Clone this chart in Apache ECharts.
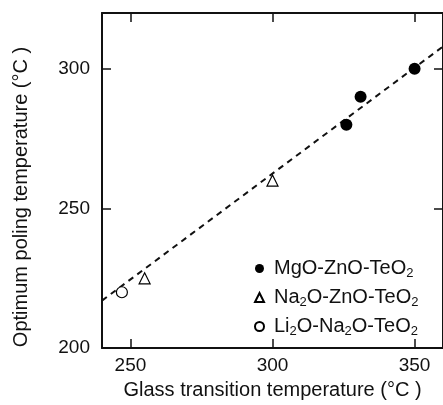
<!DOCTYPE html>
<html><head><meta charset="utf-8">
<script src="https://cdn.jsdelivr.net/npm/echarts@6/dist/echarts.min.js"></script>
<style>html,body{margin:0;padding:0;background:#fff}#c{width:443px;height:405px}</style>
</head><body><div id="c"></div>
<script>
const mgoZnoTeo2 = [[326, 280], [331, 290], [350, 300]];
const na2oZnoTeo2 = [[255, 225], [300, 260]];
const li2oNa2oTeo2 = [[247, 220]];
const fitLine = [[240, 217], [360, 308]];
const xTicks = [250, 300, 350];
const yTicks = [200, 250, 300];
const seriesNames = ['MgO-ZnO-TeO2', 'Na2O-ZnO-TeO2', 'Li2O-Na2O-TeO2'];
const xTitle = 'Glass transition temperature (°C )';
const yTitle = 'Optimum poling temperature (°C )';

const FONT = '"Liberation Sans", Arial, sans-serif';
const INK = '#111';

function richName(name) {
  let out = '{g| }';
  let buf = '';
  for (const ch of name) {
    if (/\d/.test(ch)) {
      if (buf) { out += '{n|' + buf + '}'; buf = ''; }
      out += '{s|' + ch + '}';
    } else buf += ch;
  }
  if (buf) out += '{n|' + buf + '}';
  return out;
}

const axisLineStyle = { color: INK, width: 2 };
const tickStyle = { color: INK, width: 1.5 };
const chart = echarts.init(document.getElementById('c'), null, { renderer: 'canvas' });
chart.setOption({
  backgroundColor: '#fff',
  animation: false,
  textStyle: { fontFamily: FONT, color: INK },
  grid: { left: 102, top: 13, width: 342, height: 340, containLabel: false },
  graphic: [{
    type: 'text', x: 11, y: 197, rotation: Math.PI / 2,
    style: { text: yTitle, font: '20px ' + FONT, fill: INK, align: 'center', verticalAlign: 'top' }
  }],
  legend: {
    orient: 'vertical',
    left: 249, top: 252,
    itemWidth: 9, itemHeight: 9, itemGap: 6,
    data: seriesNames,
    formatter: richName,
    textStyle: {
      fontFamily: FONT, color: INK,
      rich: {
        g: { width: 5, fontSize: 10, lineHeight: 20 },
        n: { fontSize: 20, fontFamily: FONT, color: INK, lineHeight: 20 },
        s: { fontSize: 13, fontFamily: FONT, color: INK, lineHeight: 20, padding: [10, 0, 0, 0] }
      }
    }
  },
  xAxis: [{
    type: 'value', min: 240, max: 360, position: 'bottom',
    name: xTitle, nameLocation: 'middle', nameGap: 22,
    nameTextStyle: { fontSize: 20, fontFamily: FONT, color: INK },
    axisLine: { show: true, lineStyle: axisLineStyle },
    axisTick: { show: true, inside: true, length: 9, lineStyle: tickStyle, customValues: xTicks },
    axisLabel: { fontSize: 19, color: INK, fontFamily: FONT, margin: 8, customValues: xTicks },
    splitLine: { show: false }
  }, {
    type: 'value', min: 240, max: 360, position: 'top',
    axisLine: { show: true, lineStyle: axisLineStyle },
    axisTick: { show: true, inside: true, length: 9, lineStyle: tickStyle, customValues: xTicks },
    axisLabel: { show: false },
    splitLine: { show: false }
  }],
  yAxis: [{
    type: 'value', min: 200, max: 320, position: 'left',
    axisLine: { show: true, lineStyle: axisLineStyle },
    axisTick: { show: true, inside: true, length: 9, lineStyle: tickStyle, customValues: yTicks },
    axisLabel: { fontSize: 19, color: INK, fontFamily: FONT, margin: 12, customValues: yTicks },
    splitLine: { show: false }
  }, {
    type: 'value', min: 200, max: 320, position: 'right',
    axisLine: { show: true, lineStyle: axisLineStyle },
    axisTick: { show: true, inside: true, length: 9, lineStyle: tickStyle, customValues: yTicks },
    axisLabel: { show: false },
    splitLine: { show: false }
  }],
  series: [
    {
      name: 'fit', type: 'line', data: fitLine, symbol: 'none', silent: true,
      lineStyle: { color: INK, width: 2, type: [6, 5] }, z: 1
    },
    {
      name: seriesNames[0], type: 'scatter', data: mgoZnoTeo2, symbol: 'circle', symbolSize: 12,
      itemStyle: { color: '#000', opacity: 1 }, z: 3
    },
    {
      name: seriesNames[1], type: 'scatter', data: na2oZnoTeo2, symbol: 'triangle', symbolSize: 11,
      symbolKeepAspect: true,
      itemStyle: { color: '#fff', borderColor: '#000', borderWidth: 1.2, opacity: 1 }, z: 3
    },
    {
      name: seriesNames[2], type: 'scatter', data: li2oNa2oTeo2, symbol: 'circle', symbolSize: 11,
      itemStyle: { color: '#fff', borderColor: '#000', borderWidth: 1.2, opacity: 1 }, z: 3
    }
  ]
});
</script></body></html>
